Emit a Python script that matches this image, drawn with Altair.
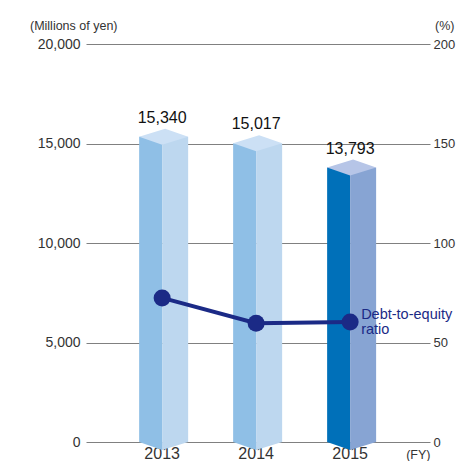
import altair as alt
import pandas as pd

years = ["2013", "2014", "2015"]
debt = [15340, 15017, 13793]
debt_labels = ["15,340", "15,017", "13,793"]
ratio = [72.4, 59.7, 60.3]
name_line1 = ["", "", "Debt-to-equity"]
name_line2 = ["", "", "ratio"]
left_ticks = [0, 5000, 10000, 15000, 20000]
right_ticks = [0, 50, 100, 150, 200]

FONT = "Liberation Sans, Arial, Helvetica, sans-serif"
LEFT_FACE = ["#8fbfe6", "#8fbfe6", "#0070b9"]
RIGHT_FACE = ["#bdd7ef", "#bdd7ef", "#87a4d3"]
TOP_FACE = ["#cce0f5", "#cce0f5", "#b6c5e7"]
NAVY = "#1b2a86"
GRID = "#808080"
TXT = "#333333"

df = pd.DataFrame({"year": years, "debt": debt, "label": debt_labels,
                   "ratio": ratio, "n1": name_line1, "n2": name_line2})

W, H = 344, 398

xscale = alt.Scale(domain=years, paddingInner=0, paddingOuter=0.33, align=0.47)
x_axis = alt.Axis(title="(FY)", labelFont=FONT, labelFontSize=16, labelColor=TXT,
                  labelAngle=0, labelPadding=16, labelBaseline="alphabetic",
                  ticks=False, domain=False, grid=False,
                  titleFont=FONT, titleFontSize=12.5, titleFontWeight="normal",
                  titleColor=TXT, titleX=W, titleY=16, titleAlign="right",
                  titleBaseline="alphabetic")
X = alt.X("year:N", scale=xscale, axis=x_axis)

lscale = alt.Scale(domain=[0, 20000], nice=False, zero=True)
l_axis = alt.Axis(values=left_ticks, format=",d", orient="left",
                  title="(Millions of yen)", titleAngle=0, titleX=31, titleY=-15,
                  titleAlign="right", titleBaseline="alphabetic", titleFont=FONT,
                  titleFontSize=12.5, titleFontWeight="normal", titleColor=TXT,
                  labelFont=FONT, labelFontSize=14, labelColor=TXT, labelPadding=6,
                  ticks=False, domain=False, grid=True, gridColor=GRID, gridWidth=1)
YL = alt.Y("debt:Q", scale=lscale, axis=l_axis)
YL0 = alt.Y(datum=0, scale=lscale, axis=l_axis)

S = 26.0
TOP_PATH = "M -0.885 0 L 0.115 -0.308 L 1 0 L 0 0.308 Z"
BOT_L = "M -0.885 0 L 0.02 0 L 0.02 0.308 L 0 0.308 Z"
BOT_R = "M 0 0 L 1 0 L 0 0.308 Z"
SZ = (2 * S) ** 2

base = alt.Chart(df)

def col(rng):
    return alt.Color("year:N", scale=alt.Scale(domain=years, range=rng), legend=None)

left_face = base.mark_bar(width=23, xOffset=-11.5).encode(x=X, y=YL, color=col(LEFT_FACE))
right_face = base.mark_bar(width=26, xOffset=13).encode(x=X, y=YL, color=col(RIGHT_FACE))
tops = base.mark_point(shape=TOP_PATH, size=SZ, filled=True, opacity=1, strokeWidth=0).encode(
    x=X, y=YL, color=col(TOP_FACE))
bot_l = base.mark_point(shape=BOT_L, size=SZ, filled=True, opacity=1, strokeWidth=0).encode(
    x=X, y=YL0, color=col(LEFT_FACE))
bot_r = base.mark_point(shape=BOT_R, size=SZ, filled=True, opacity=1, strokeWidth=0).encode(
    x=X, y=YL0, color=col(RIGHT_FACE))
vlabels = base.mark_text(font=FONT, fontSize=16, color="#111111", dy=-14,
                         baseline="alphabetic", align="center").encode(
    x=X, y=YL, text="label:N")

left = alt.layer(left_face, right_face, tops, bot_l, bot_r, vlabels).resolve_scale(color="independent")

rscale = alt.Scale(domain=[0, 200], nice=False, zero=True)
r_axis = alt.Axis(values=right_ticks, orient="right", title="(%)", titleAngle=0,
                  titleX=24, titleY=-15, titleAlign="right", titleBaseline="alphabetic",
                  titleFont=FONT, titleFontSize=12.5, titleFontWeight="normal",
                  titleColor=TXT, labelFont=FONT, labelFontSize=13, labelColor=TXT,
                  labelPadding=3, ticks=False, domain=False, grid=False)
YR = alt.Y("ratio:Q", scale=rscale, axis=r_axis)

line = base.mark_line(color=NAVY, strokeWidth=4).encode(x=X, y=YR)
pts = base.mark_circle(size=290, color=NAVY, opacity=1).encode(x=X, y=YR)
name1 = base.mark_text(font=FONT, fontSize=14.5, color=NAVY, align="left",
                       baseline="alphabetic", dx=11, dy=-3).encode(
    x=X, y=YR, text="n1:N")
name2 = base.mark_text(font=FONT, fontSize=14.5, color=NAVY, align="left",
                       baseline="alphabetic", dx=11, dy=12).encode(
    x=X, y=YR, text="n2:N")

right = alt.layer(line, pts, name1, name2)

chart = alt.layer(left, right).resolve_scale(y="independent").properties(
    width=W, height=H,
    padding={"left": 78, "top": 36, "right": 26, "bottom": 19},
    autosize=alt.AutoSizeParams(type="none"),
).configure_view(stroke=None)

chart.save("out.html", embed_options={"renderer": "svg", "actions": False})
